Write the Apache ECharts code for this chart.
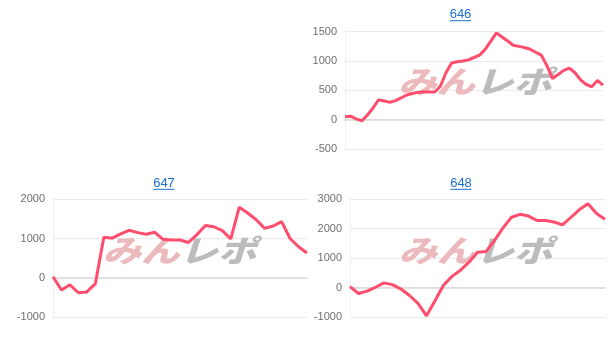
<!DOCTYPE html>
<html>
<head>
<meta charset="utf-8">
<script src="https://cdn.jsdelivr.net/npm/echarts@6/dist/echarts.min.js"></script>
<style>html,body{margin:0;padding:0;background:#fff}#c{width:613px;height:351px}</style>
</head>
<body>
<div id="c"></div>
<script>
var titles = ['646', '647', '648'];
var values646 = [50,60,15,-20,80,200,340,320,295,325,370,420,445,465,470,472,472,570,800,965,987,1000,1020,1060,1100,1200,1340,1480,1410,1340,1270,1250,1230,1200,1150,1100,920,700,770,840,880,800,680,600,560,670,590];
var values647 = [25,-313,-180,-382,-360,-150,1030,1010,1120,1210,1150,1110,1160,980,961,961,900,1100,1330,1300,1200,990,1800,1650,1480,1260,1320,1430,1000,790,630];
var values648 = [34,-200,-120,10,160,100,-50,-270,-540,-960,-450,80,380,590,860,1200,1224,1600,2030,2390,2490,2430,2278,2278,2230,2132,2390,2650,2850,2520,2326];
var yMin = [-500, -1000, -1000];
var yMax = [1500, 2000, 3000];
var yStep = [500, 1000, 1000];

function cats(arr){ return arr.map(function(_, i){ return String(i + 1); }); }
var allValues = [values646, values647, values648];

var grids = [
  {left: 345, right: 10, top: 31.7, height: 117.3},
  {left: 53, right: 306, top: 199.3, height: 117.7},
  {left: 350, right: 8, top: 199.3, height: 117.7}
];
var titlePos = [[460.5, 14.7], [164, 183.3], [461, 183.3]];
var wmPos = [[475, 81.5], [179.5, 250], [475.5, 250]];

var chart = echarts.init(document.getElementById('c'), null, {renderer: 'canvas'});
var option = {
  animation: false,
  grid: grids,
  xAxis: allValues.map(function(v, i){
    return {type: 'category', gridIndex: i, data: cats(v), boundaryGap: false,
      axisLabel: {show: false}, axisTick: {show: false},
      axisLine: {show: true, onZero: true, lineStyle: {color: '#d9d9d9', width: 1.5}},
      splitLine: {show: false}};
  }),
  yAxis: allValues.map(function(v, i){
    return {type: 'value', gridIndex: i, min: yMin[i], max: yMax[i], interval: yStep[i],
      axisLine: {show: true, lineStyle: {color: '#eeeeee'}}, axisTick: {show: false},
      axisLabel: {color: '#6f6f6f', fontSize: 11, margin: 8, fontFamily: 'Liberation Sans, Arial, sans-serif',
        formatter: function(val){ return String(val); }},
      splitLine: {lineStyle: {color: '#eaeaea'}}};
  }),
  graphic: [],
  series: allValues.map(function(v, i){
    return {type: 'line', xAxisIndex: i, yAxisIndex: i, data: v, symbol: 'none', z: 5,
      lineStyle: {color: '#ff4d6d', width: 3}, itemStyle: {color: '#ff4d6d'}};
  })
};
titles.forEach(function(t, i){
  option.graphic.push({type: 'text', z: 10, x: titlePos[i][0], y: titlePos[i][1],
    style: {text: t, align: 'center', verticalAlign: 'middle', fill: '#1a6fd0',
      font: '13px "Liberation Sans", Arial, sans-serif'}});
  option.graphic.push({type: 'line', z: 10, shape: {x1: titlePos[i][0] - 10.5, y1: titlePos[i][1] + 6, x2: titlePos[i][0] + 10.5, y2: titlePos[i][1] + 6},
    style: {stroke: '#1a6fd0', lineWidth: 1}});
  option.graphic.push({type: 'text', z: 1, x: wmPos[i][0], y: wmPos[i][1], scaleX: 1.2, scaleY: 0.95,
    style: {text: '{a|みん}{b|レポ}', align: 'center', verticalAlign: 'middle',
      rich: {
        a: {font: 'italic 900 32px "Noto Sans CJK JP"', fill: '#ecbabd'},
        b: {font: 'italic 900 32px "Noto Sans CJK JP"', fill: '#bcbcbc'}
      }}});
});
chart.setOption(option);
</script>
</body>
</html>
